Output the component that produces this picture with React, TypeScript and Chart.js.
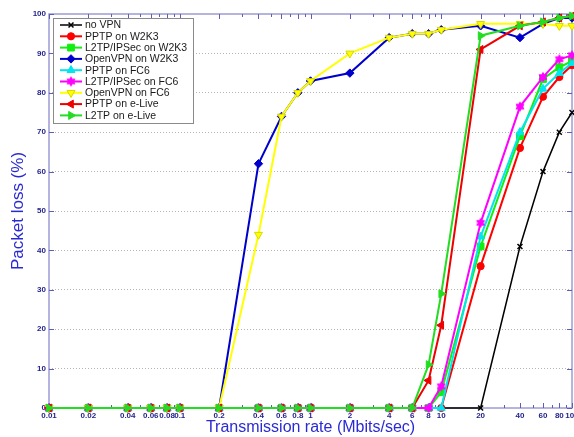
import React, { useEffect, useRef } from 'react';
import { Chart, registerables } from 'chart.js';
import { drawPoint } from 'chart.js/helpers';

Chart.register(...registerables);

// Transmission rate (Mbits/sec)
const xValues = [0.01, 0.02, 0.04, 0.06, 0.08, 0.1, 0.2, 0.4, 0.6, 0.8, 1, 2, 4, 6, 8, 10, 20, 40, 60, 80, 100];
const xTickLabels = ['0.01', '0.02', '0.04', '0.06', '0.08', '0.1', '0.2', '0.4', '0.6', '0.8', '1', '2', '4', '6', '8', '10', '20', '40', '60', '80', '100'];
const yTickValues = [0, 10, 20, 30, 40, 50, 60, 70, 80, 90, 100];

// Packet loss (%)
const noVPN = [0, 0, 0, 0, 0, 0, 0, 0, 0, 0, 0, 0, 0, 0, 0, 0, 0, 41, 60, 70, 75];
const pptpW2K3 = [0, 0, 0, 0, 0, 0, 0, 0, 0, 0, 0, 0, 0, 0, 0, 0, 36, 66, 79, 84, 87];
const l2tpW2K3 = [0, 0, 0, 0, 0, 0, 0, 0, 0, 0, 0, 0, 0, 0, 0, 4, 41, 69, 83.5, 86.5, 88];
const openvpnW2K3 = [0, 0, 0, 0, 0, 0, 0, 62, 74, 80, 83, 85, 94, 95, 95, 96, 97, 94, 97.5, 99, 99];
const pptpFC6 = [0, 0, 0, 0, 0, 0, 0, 0, 0, 0, 0, 0, 0, 0, 0, 0, 43.5, 70, 81, 85, 87.5];
const l2tpFC6 = [0, 0, 0, 0, 0, 0, 0, 0, 0, 0, 0, 0, 0, 0, 0, 5.5, 47, 76.5, 84, 88.5, 89.5];
const openvpnFC6 = [0, 0, 0, 0, 0, 0, 0, 44, 74, 80, 83, 90, 94, 95, 95, 96, 97.5, 97.5, 97.5, 97, 97];
const pptpELive = [0, 0, 0, 0, 0, 0, 0, 0, 0, 0, 0, 0, 0, 0, 7, 21, 91, 97, 98, 99, 99.5];
const l2tpELive = [0, 0, 0, 0, 0, 0, 0, 0, 0, 0, 0, 0, 0, 0, 11, 29, 94.5, 97, 98, 99, 99.5];

const seriesNames = [
  'no VPN',
  'PPTP on W2K3',
  'L2TP/IPSec on W2K3',
  'OpenVPN on W2K3',
  'PPTP on FC6',
  'L2TP/IPSec on FC6',
  'OpenVPN on FC6',
  'PPTP on e-Live',
  'L2TP on e-Live',
];
const seriesValues = [noVPN, pptpW2K3, l2tpW2K3, openvpnW2K3, pptpFC6, l2tpFC6, openvpnFC6, pptpELive, l2tpELive];

const FONT = "'Liberation Sans', Arial, Helvetica, sans-serif";

function makeHexagram(color: string, r: number) {
  const size = Math.ceil(r * 2 + 3);
  const c = document.createElement('canvas');
  c.width = size;
  c.height = size;
  const g = c.getContext('2d')!;
  g.translate(size / 2, size / 2);
  g.beginPath();
  for (let i = 0; i < 12; i++) {
    const a = -Math.PI / 2 + (i * Math.PI) / 6;
    const rr = i % 2 === 0 ? r : r * 0.58;
    g.lineTo(rr * Math.cos(a), rr * Math.sin(a));
  }
  g.closePath();
  g.fillStyle = color;
  g.fill();
  g.strokeStyle = color;
  g.lineWidth = 1;
  g.stroke();
  return c;
}

export default function App() {
  const ref = useRef<HTMLCanvasElement | null>(null);

  useEffect(() => {
    if (!ref.current) return;
    const hexagram = makeHexagram('#ff00ff', 4.5);

    const styles: any[] = [
      { color: '#000000', fill: '#000000', pointStyle: 'crossRot', radius: 3.5, rotation: 0, width: 1.5, pbw: 1.5 },
      { color: '#ff0000', fill: '#ff0000', pointStyle: 'circle', radius: 3.6, rotation: 0, width: 2, pbw: 1 },
      { color: '#11ee11', fill: '#11ee11', pointStyle: 'rect', radius: 4.8, rotation: 0, width: 2, pbw: 1 },
      { color: '#0000cc', fill: '#0000cc', pointStyle: 'rectRot', radius: 4.2, rotation: 0, width: 2, pbw: 1 },
      { color: '#00e5f0', fill: '#00e5f0', pointStyle: 'triangle', radius: 4.6, rotation: 0, width: 2, pbw: 1 },
      { color: '#ff00ff', fill: '#ff00ff', pointStyle: hexagram, radius: 4.5, rotation: 0, width: 2, pbw: 1 },
      { color: '#ffff00', fill: '#ffff00', pointStyle: 'triangle', radius: 4.6, rotation: 180, width: 2, pbw: 1 },
      { color: '#ee0000', fill: '#ee0000', pointStyle: 'triangle', radius: 4.6, rotation: 270, width: 2, pbw: 1 },
      { color: '#22dd22', fill: '#22dd22', pointStyle: 'triangle', radius: 4.6, rotation: 90, width: 2, pbw: 1 },
    ];

    const datasets = seriesNames.map((name, i) => ({
      label: name,
      data: xValues.map((x, j) => ({ x, y: seriesValues[i][j] })),
      borderColor: styles[i].color,
      backgroundColor: styles[i].fill,
      borderWidth: styles[i].width,
      pointStyle: styles[i].pointStyle,
      pointRadius: styles[i].radius,
      pointRotation: styles[i].rotation,
      pointBorderWidth: styles[i].pbw,
      pointBorderColor: i === 6 ? '#d8d800' : styles[i].color,
      pointBackgroundColor: styles[i].fill,
      tension: 0,
      fill: false,
      clip: false as any,
      order: seriesNames.length - i,
    }));

    const framePlugin = {
      id: 'frame',
      beforeDatasetsDraw(chart: any) {
        const { ctx, chartArea: a, scales } = chart;
        ctx.save();
        ctx.strokeStyle = '#9c9cd4';
        ctx.lineWidth = 1.5;
        ctx.strokeRect(a.left, a.top, a.right - a.left, a.bottom - a.top);
        ctx.strokeStyle = '#5e5eb8';
        ctx.lineWidth = 1;
        const xs = scales.x;
        const drawXTick = (v: number, len: number) => {
          const px = Math.round(xs.getPixelForValue(v)) + 0.5;
          ctx.beginPath();
          ctx.moveTo(px, a.top);
          ctx.lineTo(px, a.top + len);
          ctx.moveTo(px, a.bottom);
          ctx.lineTo(px, a.bottom - len);
          ctx.stroke();
        };
        [0.01, 0.1, 1, 10].forEach((d) => {
          for (let k = 2; k <= 9; k++) drawXTick(k * d, 3);
        });
        xValues.forEach((v) => drawXTick(v, 5));
        const ys = scales.y;
        yTickValues.forEach((v) => {
          const py = Math.round(ys.getPixelForValue(v)) + 0.5;
          ctx.beginPath();
          ctx.moveTo(a.left, py);
          ctx.lineTo(a.left + 5, py);
          ctx.moveTo(a.right, py);
          ctx.lineTo(a.right - 5, py);
          ctx.stroke();
        });
        ctx.restore();
      },
    };

    const legendPlugin = {
      id: 'boxLegend',
      afterDraw(chart: any) {
        const { ctx } = chart;
        ctx.save();
        const bx = 53.5, by = 18.5, bw = 140, bh = 105;
        ctx.fillStyle = '#ffffff';
        ctx.fillRect(bx, by, bw, bh);
        ctx.strokeStyle = '#8a8a8a';
        ctx.lineWidth = 1;
        ctx.strokeRect(bx, by, bw, bh);
        ctx.font = `10.5px ${FONT}`;
        ctx.textBaseline = 'middle';
        ctx.textAlign = 'left';
        seriesNames.forEach((name, i) => {
          const y = 25 + i * 11.3;
          const s = styles[i];
          ctx.strokeStyle = s.color;
          ctx.lineWidth = s.width;
          ctx.beginPath();
          ctx.moveTo(60, y);
          ctx.lineTo(82, y);
          ctx.stroke();
          ctx.fillStyle = s.fill;
          ctx.strokeStyle = i === 6 ? '#d8d800' : s.color;
          ctx.lineWidth = s.pbw;
          drawPoint(ctx, { pointStyle: s.pointStyle, rotation: s.rotation, radius: s.radius, borderWidth: s.pbw } as any, 71, y);
          ctx.fillStyle = '#1a1a1a';
          ctx.fillText(name, 85, y + 0.5);
        });
        ctx.restore();
      },
    };

    const chart = new Chart(ref.current, {
      type: 'line',
      data: { datasets: datasets as any },
      options: {
        animation: false,
        responsive: false,
        devicePixelRatio: 1,
        layout: { padding: { top: 14, right: 10, left: 0, bottom: 0 } },
        plugins: { legend: { display: false }, tooltip: { enabled: false } },
        scales: {
          x: {
            type: 'logarithmic',
            min: 0.01,
            max: 100,
            afterBuildTicks: (scale: any) => {
              scale.ticks = xValues.map((v) => ({ value: v }));
            },
            afterFit: (scale: any) => {
              scale.height = 29;
            },
            grid: { display: false, drawTicks: false },
            border: { display: false },
            ticks: {
              autoSkip: false,
              maxRotation: 0,
              minRotation: 0,
              padding: 3,
              color: '#24248e',
              font: { family: FONT, size: 8, weight: 'bold' },
              callback: (v: any) => {
                const idx = xValues.indexOf(Number(v));
                return idx >= 0 ? xTickLabels[idx] : '';
              },
            },
            title: {
              display: true,
              text: 'Transmission rate (Mbits/sec)',
              color: '#2a2ad2',
              font: { family: FONT, size: 16 },
              padding: { top: 0, bottom: 0 },
            },
          },
          y: {
            type: 'linear',
            min: 0,
            max: 100,
            afterBuildTicks: (scale: any) => {
              scale.ticks = yTickValues.map((v) => ({ value: v }));
            },
            afterFit: (scale: any) => {
              scale.width = 49;
            },
            grid: {
              drawTicks: false,
              color: (c: any) => (c.tick && (c.tick.value === 0 || c.tick.value === 100) ? 'rgba(0,0,0,0)' : '#b4b4b4'),
              lineWidth: 1,
            },
            border: { display: false, dash: [1, 2] },
            ticks: {
              padding: 3,
              color: '#24248e',
              font: { family: FONT, size: 8, weight: 'bold' },
              callback: (v: any) => String(v),
            },
            title: {
              display: true,
              text: 'Packet loss (%)',
              color: '#2a2ad2',
              font: { family: FONT, size: 17 },
              padding: { top: 8, bottom: 0 },
            },
          },
        },
      },
      plugins: [framePlugin, legendPlugin],
    });

    return () => chart.destroy();
  }, []);

  return (
    <div style={{ position: 'fixed', left: 0, top: 0, width: 574, height: 437, overflow: 'hidden', background: '#ffffff' }}>
      <canvas ref={ref} width={582} height={437} style={{ display: 'block', width: 582, height: 437 }} />
    </div>
  );
}
